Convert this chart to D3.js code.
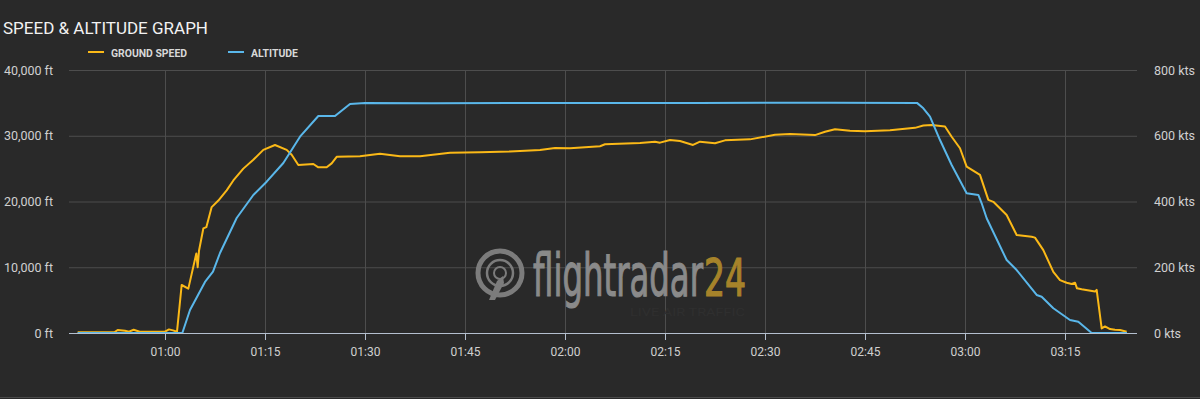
<!DOCTYPE html>
<html>
<head>
<meta charset="utf-8">
<script src="https://cdn.jsdelivr.net/npm/d3@7"></script>
<style>
  html, body { margin: 0; padding: 0; background: #292929; overflow: hidden; }
</style>
</head>
<body>
<script>
// time is minutes after 00:00
var speedTime = [46.9, 52.4, 52.9, 54.0, 54.6, 55.3, 56.2, 60.0, 60.6, 61.2, 61.8, 62.5, 63.5, 64.7, 64.9, 65.1,
                 65.75, 66.2, 67.0, 68.0, 69.25, 70.25, 71.75, 73.25, 74.75, 76.5, 78.25, 79.0, 80.0, 82.25,
                 83.0, 84.25, 85.0, 85.75, 89.25, 92.25, 95.25, 98.25, 102.75, 107.25, 111.75, 116.25, 118.5,
                 120.75, 125.25, 126.0, 131.25, 133.5, 134.25, 135.75, 137.25, 139.2, 140.25, 142.5, 144.0,
                 147.75, 151.5, 153.75, 157.5, 159.0, 160.5, 162.75, 165.0, 168.75, 172.5, 173.75, 175.0,
                 177.0, 178.0, 179.25, 180.25, 182.25, 183.5, 184.25, 186.25, 187.75, 190.0, 190.5, 191.75,
                 193.25, 194.25, 195.25, 196.0, 196.5, 196.8, 197.5, 199.5, 199.75, 200.5, 201.0, 201.75,
                 202.5, 203.25, 204.25];
var speedKts  = [2, 2, 9, 7, 4, 10, 4, 4, 11, 8, 4, 146, 135, 242, 200, 250,
                 318, 322, 383, 403, 434, 464, 500, 527, 557, 572, 557, 542, 511, 514,
                 504, 504, 516, 536, 538, 545, 538, 538, 548, 550, 552, 557, 563,
                 562, 568, 574, 578, 582, 579, 587, 584, 572, 582, 577, 586,
                 589, 603, 605, 602, 612, 620, 615, 614, 617, 624, 631, 633,
                 628, 597, 562, 506, 481, 405, 399, 359, 298, 293, 290, 252,
                 186, 161, 153, 149, 153, 136, 133, 126, 131, 14, 20, 12,
                 10, 9, 4];

var altTime = [46.9, 62.6, 63.75, 66.0, 67.2, 68.25, 70.75, 73.25, 75.25, 77.75, 80.25, 83.0, 85.5, 87.75,
               90.0, 100.0, 120.0, 140.0, 160.0, 172.8, 173.75, 174.75, 176.25, 178.0, 180.25, 182.0,
               182.5, 183.25, 186.25, 187.75, 190.75, 191.5, 193.25, 195.75, 197.0, 199.0, 204.3];
var altFt   = [0, 0, 3500, 7760, 9320, 12170, 17490, 20990, 23010, 25860, 29860, 33000, 33000, 34830,
               34980, 34950, 34990, 35000, 35010, 35000, 34170, 32900, 29350, 25550, 21250, 21000,
               19730, 17450, 11100, 9580, 5780, 5520, 3760, 1980, 1720, 0, 0];

var timeTicks  = [60, 75, 90, 105, 120, 135, 150, 165, 180, 195];
var altTicks   = [0, 10000, 20000, 30000, 40000];
var speedTicks = [0, 200, 400, 600, 800];

var width  = 1200;
var height = 399;
var plotL = 69, plotR = 1137, plotT = 70, plotB = 333;

var svg = d3.select("body").append("svg")
            .attr("width", width)
            .attr("height", height)
            .style("font-family", "Roboto, sans-serif");

svg.append("rect").attr("width", width).attr("height", height).attr("fill", "#292929");
svg.append("line").attr("x1", 0).attr("x2", width).attr("y1", 397.5).attr("y2", 397.5)
   .attr("stroke", "#4a4a4a").attr("stroke-width", 1);

var x = d3.scaleLinear().domain([45.6, 205.8]).range([plotL, plotR]);
var yAlt = d3.scaleLinear().domain([0, 40000]).range([plotB, plotT]);
var ySpd = d3.scaleLinear().domain([0, 800]).range([plotB, plotT]);

function hhmm(m) {
  var h = Math.floor(m / 60), mm = Math.round(m % 60);
  return (h < 10 ? "0" : "") + h + ":" + (mm < 10 ? "0" : "") + mm;
}

// title + legend
svg.append("text").attr("x", 3).attr("y", 34).attr("fill", "#f2f2f2")
   .style("font-size", "17px").text("SPEED & ALTITUDE GRAPH");

var legend = [{name: "GROUND SPEED", color: "#fbb917", x: 88, w: 76},
              {name: "ALTITUDE", color: "#5ab7ea", x: 228, w: 47}];
legend.forEach(function(l) {
  svg.append("line").attr("x1", l.x).attr("x2", l.x + 16).attr("y1", 52).attr("y2", 52)
     .attr("stroke", l.color).attr("stroke-width", 2);
  svg.append("text").attr("x", l.x + 23).attr("y", 56.5).attr("fill", "#d8d8d8")
     .style("font-size", "11px").style("font-weight", "bold")
     .attr("textLength", l.w).attr("lengthAdjust", "spacingAndGlyphs").text(l.name);
});

// grid
svg.append("g")
   .attr("transform", "translate(" + plotL + ",0)")
   .call(d3.axisLeft(yAlt).tickValues(altTicks).tickSize(-(plotR - plotL)).tickFormat(""))
   .call(function(g) { g.select(".domain").remove(); })
   .selectAll("line").attr("stroke", "#4d4d4d");

svg.append("g")
   .attr("transform", "translate(0," + plotT + ")")
   .call(d3.axisBottom(x).tickValues(timeTicks).tickSize(plotB - plotT).tickFormat(""))
   .call(function(g) { g.select(".domain").remove(); })
   .selectAll("line").attr("stroke", "#4d4d4d");

// watermark
var wm = svg.append("g").attr("pointer-events", "none");
wm.append("circle").attr("cx", 500).attr("cy", 273).attr("r", 22)
  .attr("fill", "none").attr("stroke", "#7c7c7c").attr("stroke-width", 5);
wm.append("circle").attr("cx", 500).attr("cy", 273).attr("r", 13)
  .attr("fill", "none").attr("stroke", "#7c7c7c").attr("stroke-width", 2.5);
wm.append("circle").attr("cx", 500).attr("cy", 273).attr("r", 6)
  .attr("fill", "none").attr("stroke", "#7c7c7c").attr("stroke-width", 2);
wm.append("path").attr("d", "M489,300 L497,281 L503,276 L504,283 L495,300 Z").attr("fill", "#7c7c7c");
wm.append("text").attr("x", 533).attr("y", 296).attr("fill", "#8a8a8a")
  .attr("stroke", "#8a8a8a").attr("stroke-width", 1.2)
  .style("font-family", "'DejaVu Sans Condensed', 'DejaVu Sans', sans-serif").style("font-size", "58px")
  .attr("textLength", 170).attr("lengthAdjust", "spacingAndGlyphs").text("flightradar");
wm.append("text").attr("x", 704).attr("y", 296).attr("fill", "#a6832a")
  .attr("stroke", "#a6832a").attr("stroke-width", 1.2)
  .style("font-family", "'DejaVu Sans Condensed', 'DejaVu Sans', sans-serif").style("font-size", "52px")
  .attr("textLength", 42).attr("lengthAdjust", "spacingAndGlyphs").text("24");
wm.append("text").attr("x", 630).attr("y", 316).attr("fill", "#2f2f2f")
  .style("font-size", "11px").attr("textLength", 115).attr("lengthAdjust", "spacingAndGlyphs")
  .text("LIVE AIR TRAFFIC");

// series
var speedData = speedTime.map(function(t, i) { return [t, speedKts[i]]; });
var altData = altTime.map(function(t, i) { return [t, altFt[i]]; });

svg.append("path").datum(speedData)
   .attr("fill", "none").attr("stroke", "#fbb917").attr("stroke-width", 2).attr("stroke-linejoin", "round")
   .attr("d", d3.line().x(function(d) { return x(d[0]); }).y(function(d) { return ySpd(d[1]); }));

svg.append("path").datum(altData)
   .attr("fill", "none").attr("stroke", "#5ab7ea").attr("stroke-width", 2).attr("stroke-linejoin", "round")
   .attr("d", d3.line().x(function(d) { return x(d[0]); }).y(function(d) { return yAlt(d[1]); }));

// axes
var xAxis = svg.append("g")
   .attr("transform", "translate(0," + plotB + ")")
   .call(d3.axisBottom(x).tickValues(timeTicks).tickSize(7).tickPadding(7).tickFormat(hhmm));
xAxis.select(".domain").attr("stroke", "#b4bfce").attr("d", "M" + plotL + ",0.5H" + plotR);
xAxis.selectAll(".tick line").attr("stroke", "#b4bfce");
xAxis.selectAll("text").attr("fill", "#d0d0d0").style("font-size", "12px").style("font-family", "Roboto, sans-serif");

var yl = svg.append("g").attr("transform", "translate(53,0)")
   .call(d3.axisLeft(yAlt).tickValues(altTicks).tickSize(0).tickPadding(0)
           .tickFormat(function(d) { return d3.format(",")(d) + " ft"; }));
yl.select(".domain").remove();
yl.selectAll("text").attr("fill", "#d0d0d0").style("font-size", "12.5px").style("font-family", "Roboto, sans-serif");

var yr = svg.append("g").attr("transform", "translate(1154,0)")
   .call(d3.axisRight(ySpd).tickValues(speedTicks).tickSize(0).tickPadding(0)
           .tickFormat(function(d) { return d + " kts"; }));
yr.select(".domain").remove();
yr.selectAll("text").attr("fill", "#d0d0d0").style("font-size", "12.5px").style("font-family", "Roboto, sans-serif");
</script>
</body>
</html>
